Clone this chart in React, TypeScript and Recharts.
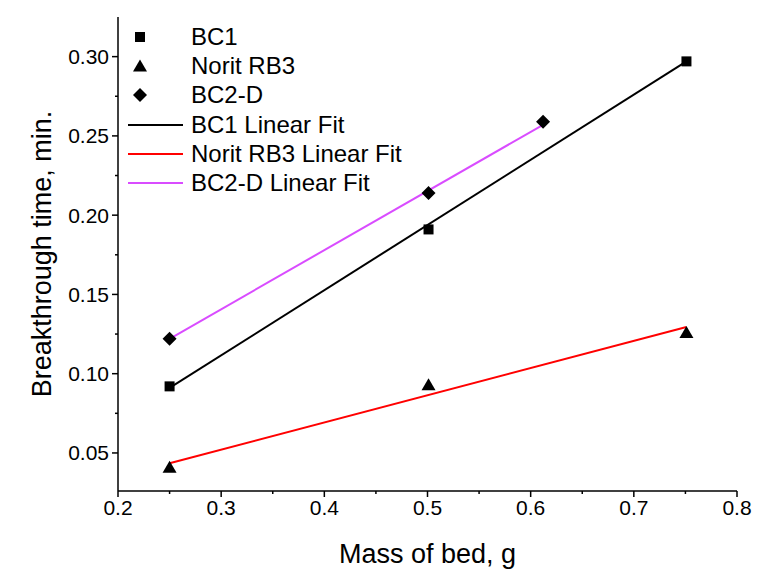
import {
  ComposedChart,
  Line,
  Scatter,
  XAxis,
  YAxis,
} from "recharts";

// measured points (mass of bed g, breakthrough time min)
const bc1 = [
  { x: 0.25, y: 0.092 },
  { x: 0.501, y: 0.191 },
  { x: 0.751, y: 0.297 },
];
const noritRb3 = [
  { x: 0.25, y: 0.041 },
  { x: 0.501, y: 0.093 },
  { x: 0.751, y: 0.126 },
];
const bc2d = [
  { x: 0.25, y: 0.122 },
  { x: 0.501, y: 0.214 },
  { x: 0.612, y: 0.259 },
];

// fit lines, endpoints
const bc1Fit = [
  { x: 0.25, y: 0.091 },
  { x: 0.751, y: 0.297 },
];
const noritFit = [
  { x: 0.25, y: 0.0435 },
  { x: 0.751, y: 0.1295 },
];
const bc2dFit = [
  { x: 0.25, y: 0.122 },
  { x: 0.612, y: 0.257 },
];

const xMajorTicks = [0.2, 0.3, 0.4, 0.5, 0.6, 0.7, 0.8];
const xMinorTicks = [0.25, 0.35, 0.45, 0.55, 0.65, 0.75];
const yMajorTicks = [0.05, 0.1, 0.15, 0.2, 0.25, 0.3];
const yMinorTicks = [0.075, 0.125, 0.175, 0.225, 0.275];

const FONT = "'Liberation Sans', Arial, sans-serif";
const MAGENTA = "#d94cff";

const isMajor = (list: number[], v: number) =>
  list.some((t) => Math.abs(t - v) < 1e-6);

const XTick = (props: any) => {
  const { x, y, payload } = props;
  const major = isMajor(xMajorTicks, payload.value);
  return (
    <g>
      <line x1={x} x2={x} y1={y} y2={y + (major ? 6 : 3)} stroke="#000" strokeWidth={1.5} />
      {major && (
        <text x={x} y={y + 16} textAnchor="middle" dominantBaseline="central" fontSize={21} fontFamily={FONT} fill="#000">
          {payload.value.toFixed(1)}
        </text>
      )}
    </g>
  );
};

const YTick = (props: any) => {
  const { x, y, payload } = props;
  const major = isMajor(yMajorTicks, payload.value);
  return (
    <g>
      <line x1={x} x2={x - (major ? 6 : 3)} y1={y} y2={y} stroke="#000" strokeWidth={1.5} />
      {major && (
        <text x={x - 9} y={y} textAnchor="end" dominantBaseline="central" fontSize={21} fontFamily={FONT} fill="#000">
          {payload.value.toFixed(2)}
        </text>
      )}
    </g>
  );
};

const Square = (p: any) => <rect x={p.cx - 5} y={p.cy - 5} width={10} height={10} fill="#000" />;
const Triangle = (p: any) => (
  <polygon points={`${p.cx},${p.cy - 6.5} ${p.cx + 7},${p.cy + 5.5} ${p.cx - 7},${p.cy + 5.5}`} fill="#000" />
);
const Diamond = (p: any) => (
  <polygon points={`${p.cx},${p.cy - 7} ${p.cx + 7},${p.cy} ${p.cx},${p.cy + 7} ${p.cx - 7},${p.cy}`} fill="#000" />
);

const legendItems = [
  { name: "BC1", kind: "square" },
  { name: "Norit RB3", kind: "triangle" },
  { name: "BC2-D", kind: "diamond" },
  { name: "BC1 Linear Fit", kind: "line", color: "#000" },
  { name: "Norit RB3 Linear Fit", kind: "line", color: "#ff0000" },
  { name: "BC2-D Linear Fit", kind: "line", color: MAGENTA },
];

const LegendBox = () => (
  <div style={{ position: "absolute", left: 126, top: 22, fontFamily: FONT, fontSize: 24, color: "#000", lineHeight: 1 }}>
    {legendItems.map((it) => (
      <div key={it.name} style={{ display: "flex", alignItems: "center", height: 29.3 }}>
        <svg width={58} height={20} style={{ marginRight: 7 }}>
          {it.kind === "square" && <Square cx={14} cy={10} />}
          {it.kind === "triangle" && <Triangle cx={14} cy={10} />}
          {it.kind === "diamond" && <Diamond cx={14} cy={10} />}
          {it.kind === "line" && <line x1={2} x2={57} y1={10} y2={10} stroke={it.color} strokeWidth={2} />}
        </svg>
        <span>{it.name}</span>
      </div>
    ))}
  </div>
);

export default function App() {
  return (
    <div style={{ position: "absolute", left: 0, top: 0, width: 758, height: 576, background: "#fff" }}>
      <ComposedChart width={758} height={576} margin={{ top: 17, right: 21, bottom: 0, left: 0 }}>
        <XAxis
          type="number"
          dataKey="x"
          domain={[0.2, 0.8]}
          ticks={[...xMajorTicks, ...xMinorTicks].sort((a, b) => a - b)}
          interval={0}
          tick={<XTick />}
          tickLine={false}
          tickSize={0}
          tickMargin={0}
          height={85}
          axisLine={{ stroke: "#000", strokeWidth: 1.5 }}
          label={{ value: "Mass of bed, g", position: "insideBottom", offset: 13, fontSize: 27, fontFamily: FONT, fill: "#000" }}
          allowDataOverflow
        />
        <YAxis
          type="number"
          dataKey="y"
          domain={[0.026, 0.325]}
          ticks={[...yMajorTicks, ...yMinorTicks].sort((a, b) => a - b)}
          interval={0}
          tick={<YTick />}
          tickLine={false}
          tickSize={0}
          tickMargin={0}
          width={118}
          axisLine={{ stroke: "#000", strokeWidth: 1.5 }}
          label={{ value: "Breakthrough time, min.", angle: -90, position: "insideLeft", offset: 41, fontSize: 27, fontFamily: FONT, fill: "#000", style: { textAnchor: "middle" } }}
          allowDataOverflow
        />
        <Line data={bc1Fit} dataKey="y" stroke="#000" strokeWidth={2} dot={false} isAnimationActive={false} name="BC1 Linear Fit" />
        <Line data={noritFit} dataKey="y" stroke="#ff0000" strokeWidth={2} dot={false} isAnimationActive={false} name="Norit RB3 Linear Fit" />
        <Line data={bc2dFit} dataKey="y" stroke={MAGENTA} strokeWidth={2} dot={false} isAnimationActive={false} name="BC2-D Linear Fit" />
        <Scatter data={bc1} dataKey="y" shape={<Square />} isAnimationActive={false} name="BC1" />
        <Scatter data={noritRb3} dataKey="y" shape={<Triangle />} isAnimationActive={false} name="Norit RB3" />
        <Scatter data={bc2d} dataKey="y" shape={<Diamond />} isAnimationActive={false} name="BC2-D" />
      </ComposedChart>
      <LegendBox />
    </div>
  );
}
